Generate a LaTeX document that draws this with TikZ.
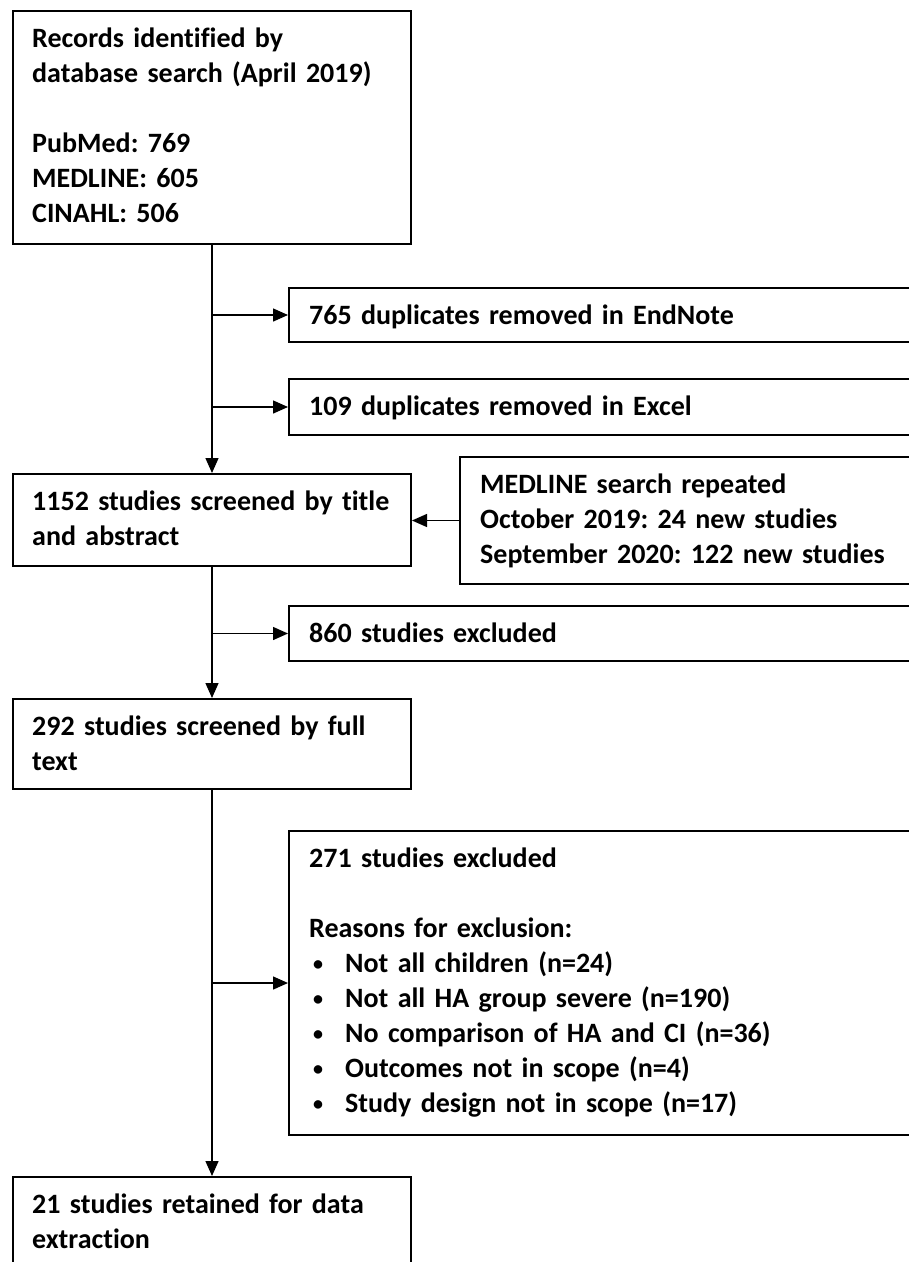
\documentclass[tikz,border=0pt]{standalone}
\usepackage{fontspec}
\setmainfont{Carlito}[Ligatures=NoCommon]
\frenchspacing
\usetikzlibrary{arrows.meta}
\newcommand{\blt}{\hspace*{4pt}\makebox[32pt][l]{\raisebox{2pt}{\fontsize{20}{35}\selectfont\textbullet}}}
\tikzset{
  box/.style={draw=black, line width=2pt, rectangle, inner sep=0pt, anchor=north west},
  txt/.style={inner sep=0pt, anchor=base west, text width=580pt, align=left,
              font=\bfseries\fontsize{28}{35}\selectfont},
  link/.style={draw=black, line width=1.4pt},
  arr/.style={link, -{Triangle[length=15pt,width=13pt]}}
}
\begin{document}
\begin{tikzpicture}[x=1pt,y=-1pt]
\useasboundingbox (0,0) rectangle (909,1262);
% boxes
\node[box, minimum width=398pt, minimum height=233pt] (b1) at (12,10) {};
\node[box, minimum width=627pt, minimum height=54pt]  (bA) at (288,287) {};
\node[box, minimum width=627pt, minimum height=56pt]  (bB) at (288,378) {};
\node[box, minimum width=398pt, minimum height=92pt]  (bC) at (12,473) {};
\node[box, minimum width=456pt, minimum height=127pt] (bD) at (459,456) {};
\node[box, minimum width=627pt, minimum height=55pt]  (bE) at (288,605) {};
\node[box, minimum width=398pt, minimum height=90pt]  (bF) at (12,698) {};
\node[box, minimum width=627pt, minimum height=304pt] (bG) at (288,830) {};
\node[box, minimum width=398pt, minimum height=99pt]  (bH) at (12,1176) {};
% texts
\node[txt] (t1) at (32,47) {Records identified by\\database search (April 2019)\\[35pt]PubMed: 769\\MEDLINE: 605\\CINAHL: 506};
\node[txt] (tA) at (309,324) {765 duplicates removed in EndNote};
\node[txt] (tB) at (309,415) {109 duplicates removed in Excel};
\node[txt] (tC) at (32,510) {1152 studies screened by title\\and abstract};
\node[txt] (tD) at (480,493) {MEDLINE search repeated\\October 2019: 24 new studies\\September 2020: 122 new studies};
\node[txt] (tE) at (309,642) {860 studies excluded};
\node[txt] (tF) at (32,735) {292 studies screened by full\\text};
\node[txt] (tG) at (309,867) {271 studies excluded\\[35pt]Reasons for exclusion:\\
\blt Not all children (n=24)\\
\blt Not all HA group severe (n=190)\\
\blt No comparison of HA and CI (n=36)\\
\blt Outcomes not in scope (n=4)\\
\blt Study design not in scope (n=17)};
\node[txt] (tH) at (32,1213) {21 studies retained for data\\extraction};
% connectors
\draw[arr] (b1.south) -- (bC.north);
\draw[arr] (bA.west -| b1.south) -- (bA.west);
\draw[arr] (bB.west -| b1.south) -- (bB.west);
\draw[arr] (bD.west) -- (bD.west -| bC.east);
\draw[arr] (bC.south) -- (bF.north);
\draw[arr] (bE.west -| bC.south) -- (bE.west);
\draw[arr] (bF.south) -- (bH.north);
\draw[arr] (bG.west -| bF.south) -- (bG.west);
\end{tikzpicture}
\end{document}
